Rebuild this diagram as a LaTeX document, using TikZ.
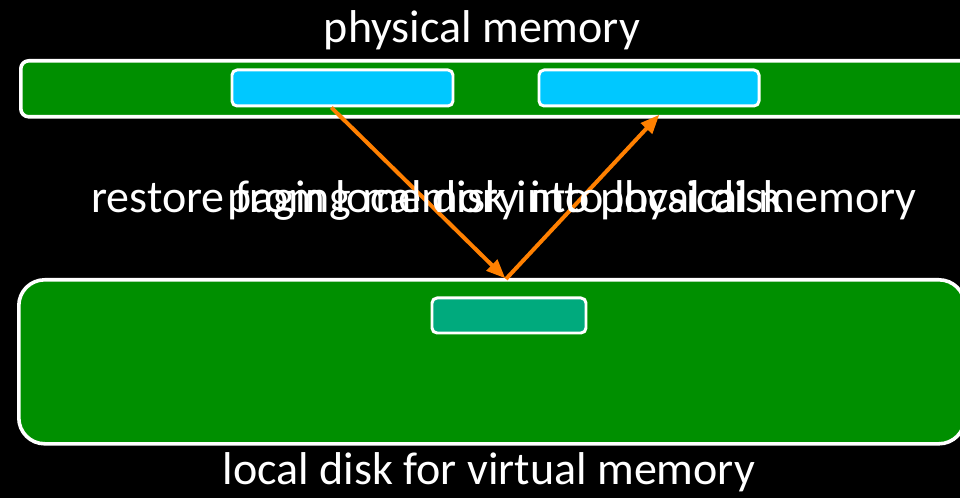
\documentclass[tikz,border=0pt]{standalone}
\usepackage{fontspec}
\setmainfont{Carlito}
\usetikzlibrary{calc,positioning,arrows.meta}
\definecolor{bargreen}{RGB}{0,143,0}
\definecolor{pageblue}{RGB}{0,200,255}
\definecolor{pageteal}{RGB}{0,170,125}
\definecolor{moveorange}{RGB}{255,128,0}
\tikzset{
  every picture/.style={line join=round},
  bar/.style={rectangle,draw=white,fill=bargreen,line width=3.6pt,
    anchor=north west,inner sep=0pt},
  page/.style={rectangle,draw=white,line width=3pt,rounded corners=5pt,
    anchor=north west,inner sep=0pt},
  move/.style={-{Triangle[length=19pt,width=15pt]},draw=moveorange,
    line width=4pt,shorten >=1pt},
  caption/.style={text=white,font=\fontsize{46bp}{55bp}\selectfont,
    inner sep=0pt,anchor=base}
}
\begin{document}
\begin{tikzpicture}[x=1bp,y=-1bp]
  \fill[black] (0,0) rectangle (960,498);
  \useasboundingbox (0,0) rectangle (960,498);
  \clip (0,0) rectangle (960,498);

  % Physical memory and the disk beneath it.
  \node[bar,rounded corners=8pt,minimum width=1000bp,minimum height=56bp]
    (phys) at (19,59) {};
  \node[bar,rounded corners=26pt,minimum width=946bp,minimum height=164bp]
    (disk) at (17,278) {};
  \node[page,fill=pageblue,minimum width=221bp,minimum height=36bp]
    (swapout) at (230.5,68.5) {};
  \node[page,fill=pageblue,minimum width=220bp,minimum height=36bp]
    (swapin) at (537.5,68.5) {};
  \node[page,fill=pageteal,minimum width=154bp,minimum height=35bp]
    (ondisk) at (430.5,296.5) {};

  \node[caption] (physlab) at (482,43) {physical memory};
  \node[caption] (disklab) at (489,484) {local disk for virtual memory};

  % Paging out and restoring again (the two labels overlap).
  \coordinate (dip) at (506,279);
  \coordinate (intophys) at (660,114);
  \draw[move] ($(swapout.south west)!.45!(swapout.south east)$)--(dip);
  \draw[move] (dip)--(intophys);
  \node[caption] (restorelab) at (504,213)
    {restore from local disk into physical memory};
  \node[caption] (paginglab) at (506,213)
    {paging memory into local disk};
\end{tikzpicture}
\end{document}
